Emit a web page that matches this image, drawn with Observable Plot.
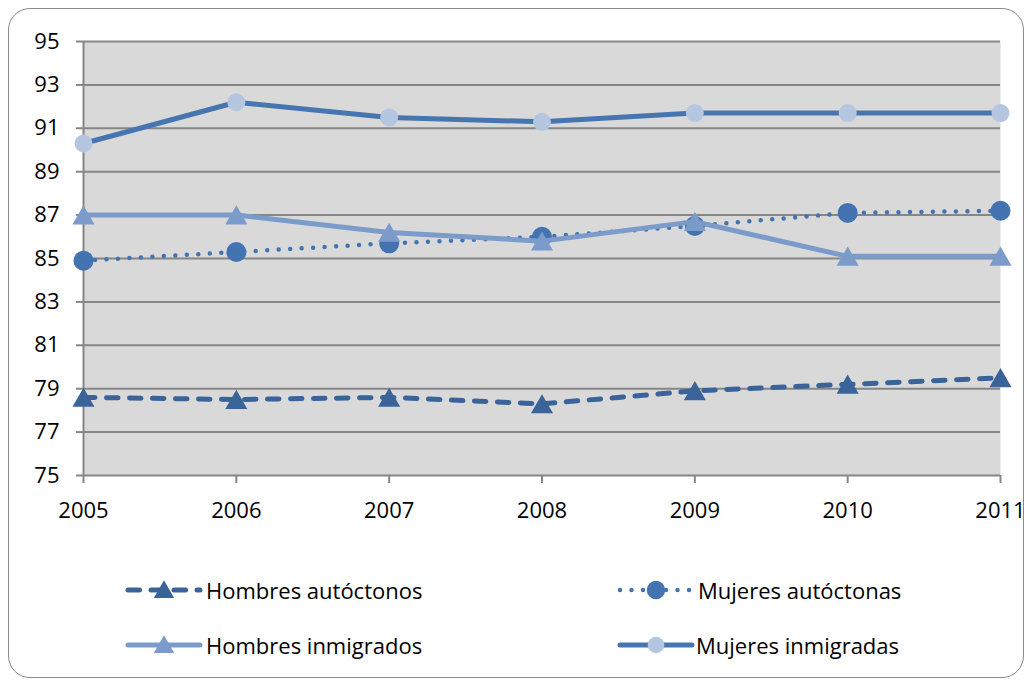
<!DOCTYPE html>
<html>
<head>
<meta charset="utf-8">
<script src="https://cdn.jsdelivr.net/npm/d3@7"></script>
<script src="https://cdn.jsdelivr.net/npm/@observablehq/plot@0.6"></script>
<style>
  body { margin: 0; background: #fff; font-family: "Open Sans", sans-serif; }
  #wrap { position: relative; width: 1033px; height: 684px; overflow: hidden; }
  #frame { position: absolute; left: 8px; top: 8px; width: 1016px; height: 670px;
           border: 1.5px solid #8a8a8a; border-radius: 22px; box-sizing: border-box; }
  #chart { position: absolute; left: 0; top: 0; }
  .leg-item { position: absolute; height: 28px; }
  .leg-item svg { position: absolute; left: 0; top: 2px; overflow: visible; }
  .leg-item span { position: absolute; top: 0; line-height: 28px; font-size: 22px; color: #000; white-space: nowrap; }
</style>
</head>
<body>
<div id="wrap">
  <div id="frame"></div>
  <div id="chart"></div>
  <div id="legend"></div>
</div>
<script>
// Years on the horizontal axis
const years = [2005, 2006, 2007, 2008, 2009, 2010, 2011];

// Series values (%)
const hombresAutoctonos = [78.6, 78.5, 78.6, 78.3, 78.9, 79.2, 79.5];
const mujeresAutoctonas = [84.9, 85.3, 85.7, 86.0, 86.5, 87.1, 87.2];
const hombresInmigrados = [87.0, 87.0, 86.2, 85.8, 86.7, 85.1, 85.1];
const mujeresInmigradas = [90.3, 92.2, 91.5, 91.3, 91.7, 91.7, 91.7];

// Vertical axis ticks
const yTicks = [75, 77, 79, 81, 83, 85, 87, 89, 91, 93, 95];

// Series styles, in drawing order
const series = [
  { name: "Hombres autóctonos", values: hombresAutoctonos, line: "#3A6399", marker: "#3A6399",
    symbol: "triangle", r: 8.2, dash: "11.5 11.5", width: 5 },
  { name: "Mujeres autóctonas", values: mujeresAutoctonas, line: "#4473B1", marker: "#4473B1",
    symbol: "circle", r: 10, dash: "0 11.5", width: 4.5 },
  { name: "Hombres inmigrados", values: hombresInmigrados, line: "#7B9BCB", marker: "#7B9BCB",
    symbol: "triangle", r: 8.2, dash: null, width: 5 },
  { name: "Mujeres inmigradas", values: mujeresInmigradas, line: "#4675B0", marker: "#B4C6E0",
    symbol: "circle", r: 9, dash: null, width: 5 }
];

const rows = s => years.map((year, i) => ({ year, value: s.values[i], serie: s.name }));

const seriesMarks = series.flatMap(s => {
  const data = rows(s);
  return [
    Plot.line(data, {
      x: "year", y: "value", stroke: s.line, strokeWidth: s.width,
      strokeDasharray: s.dash, strokeLinecap: "round", strokeLinejoin: "round"
    }),
    Plot.dot(data, {
      x: "year", y: "value", symbol: s.symbol, r: s.r, fill: s.marker, stroke: null,
      dy: s.symbol === "triangle" ? 3 : 0
    })
  ];
});

const chart = Plot.plot({
  width: 1033,
  height: 530,
  marginLeft: 83,
  marginRight: 33,
  marginTop: 41,
  marginBottom: 55,
  x: { domain: [2005, 2011] },
  y: { domain: [75, 95] },
  style: { fontFamily: "'Open Sans', sans-serif", fontSize: "22px", background: "transparent", overflow: "visible", color: "#000" },
  marks: [
    Plot.frame({ fill: "#D9D9D9", stroke: null }),
    Plot.ruleY(yTicks, { stroke: "#868686", strokeWidth: 2 }),
    Plot.ruleX([2005], { stroke: "#868686", strokeWidth: 2 }),
    Plot.axisY(yTicks, { tickSize: 7, tickPadding: 17, stroke: "#868686", strokeWidth: 2, fill: "#000", label: null }),
    Plot.axisX(years, { tickSize: 8, tickPadding: 19, tickFormat: "d", stroke: "#868686", strokeWidth: 2, fill: "#000", label: null }),
    ...seriesMarks
  ]
});
document.getElementById("chart").append(chart);

// Legend below the plot: two columns, two rows
const legendPos = [
  { left: 124, top: 576, text: 206 - 124 },
  { left: 616, top: 576, text: 698 - 616 },
  { left: 124, top: 631, text: 206 - 124 },
  { left: 616, top: 631, text: 696 - 616 }
];
const legend = d3.select("#legend");
series.forEach((s, k) => {
  const p = legendPos[k];
  const item = legend.append("div").attr("class", "leg-item")
    .style("left", p.left + "px").style("top", p.top + "px");
  const svg = item.append("svg").attr("width", 80).attr("height", 24);
  svg.append("line")
    .attr("x1", 4).attr("x2", 76).attr("y1", 12).attr("y2", 12)
    .attr("stroke", s.line).attr("stroke-width", s.width)
    .attr("stroke-linecap", "round")
    .attr("stroke-dasharray", s.dash);
  const sym = s.symbol === "triangle" ? d3.symbolTriangle : d3.symbolCircle;
  const size = Math.PI * s.r * s.r * 0.85;
  svg.append("path")
    .attr("d", d3.symbol(sym, size)())
    .attr("transform", `translate(40,${s.symbol === "triangle" ? 14 : 12})`)
    .attr("fill", s.marker);
  item.append("span").style("left", p.text + "px").text(s.name);
});
</script>
</body>
</html>
